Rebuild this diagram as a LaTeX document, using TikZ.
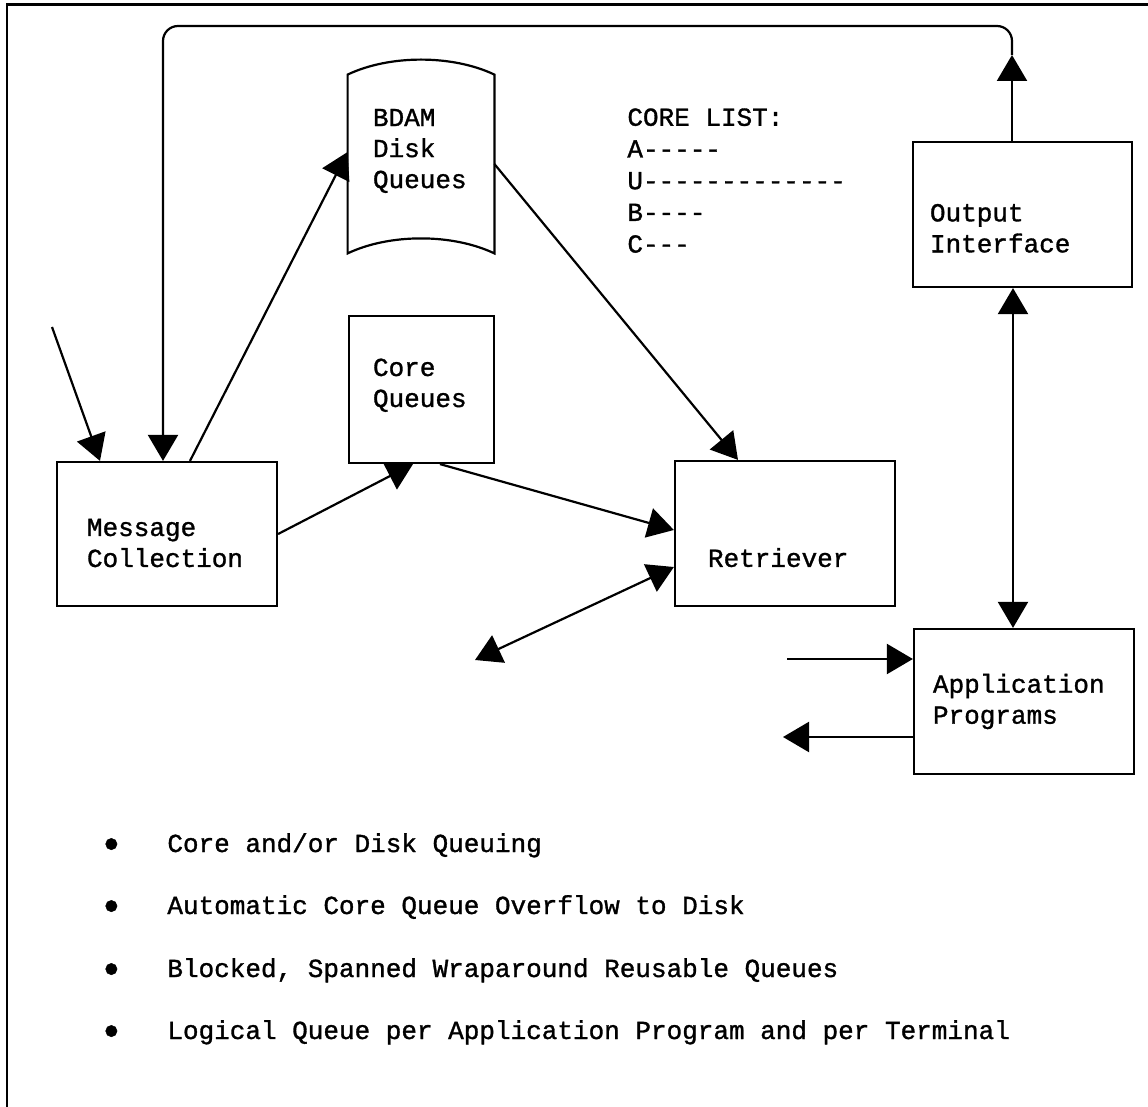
\documentclass[tikz,border=0pt]{standalone}
\usepackage{fontspec}
\newfontfamily\monofont[FakeBold=1.2]{Liberation Mono}
\usetikzlibrary{arrows.meta}
\begin{document}
\begin{tikzpicture}[x=0.5pt,y=-0.5pt,
  every node/.style={font=\monofont\fontsize{13pt}{15.5pt}\selectfont},
  box/.style={draw, line width=1.1pt, align=left, inner ysep=0pt},
  conn/.style={line width=1.1pt, -{Triangle[length=13pt,width=15pt]}},
  conn2/.style={line width=1.1pt, {Triangle[length=13pt,width=15pt]}-{Triangle[length=13pt,width=15pt]}},
  bul/.style={anchor=base west, inner sep=0pt},
  frame/.style={line width=1.1pt}]
\useasboundingbox (0,0) rectangle (1148,1107);
% outer frame (cut off at right and bottom)
\draw[frame] (1148,4.5) -- (7,4.5) -- (7,1107);

% boxes
\node[box, minimum width=110pt, minimum height=72pt, text width=80pt, inner xsep=15pt] (mc) at (167,534) {\rule{0pt}{17.6pt}Message\\Collection};
\node[box, minimum width=72.5pt, minimum height=73.5pt, text width=48.5pt, inner xsep=12pt] (core) at (421.5,389.5) {Core\\Queues\rule[-6.7pt]{0pt}{6.7pt}};
\node[align=left, minimum width=73pt, minimum height=89pt, text width=48pt, inner xsep=12.5pt, inner ysep=0pt] (bdam) at (421,164) {BDAM\\Disk\\Queues\\\mbox{}};
\draw[line width=1.1pt] (bdam.north west) .. controls +(21pt,10pt) and +(-21pt,10pt) .. (bdam.north east)
  -- (bdam.south east) .. controls +(-21pt,10pt) and +(21pt,10pt) .. (bdam.south west) -- cycle;
\node[box, minimum width=109.5pt, minimum height=72.5pt, text width=92.5pt, inner xsep=8.5pt] (oi) at (1022.5,214.5) {\mbox{}\\[7pt]Output\\Interface};
\node[box, minimum width=110pt, minimum height=72.5pt, text width=77pt, inner xsep=16.5pt] (ret) at (785,533.5) {\mbox{}\\[18pt]Retriever};
\node[box, minimum width=110pt, minimum height=72.5pt, text width=91pt, inner xsep=9.5pt] (app) at (1024,701.5) {Application\\Programs};

% core list
\node[anchor=north west, align=left, inner sep=0pt, font=\monofont\fontsize{13pt}{15.85pt}\selectfont] (corelist) at (627,108)
  {CORE LIST:\\A-----\\U-------------\\B----\\C---};

% connector end points
\coordinate (in1) at (52,327);
\coordinate (loopmid) at (1012,55);
\coordinate (ltl) at (163,26);
\coordinate (dbl) at (475,660);
\coordinate (appin) at (787,659);
\coordinate (appout) at (783,737);

% connectors
\draw[conn] (in1) -- ([xshift=-33.5pt]mc.north);
\draw[conn] (loopmid |- oi.north) -- (loopmid);
\draw[conn, rounded corners=7.5pt] (loopmid) |- (ltl) -- (ltl |- mc.north);
\draw[conn] ([xshift=11.5pt]mc.north) -- ([yshift=6pt]bdam.west);
\draw[conn] (mc.east) -- ([xshift=-4.25pt]core.south);
\draw[conn] ([xshift=9.25pt]core.south) -- ([yshift=1.75pt]ret.west);
\draw[conn2] (dbl) -- ([yshift=-16.75pt]ret.west);
\draw[conn] (bdam.east) -- ([xshift=-23.5pt]ret.north);
\draw[conn2] ([xshift=-4.75pt]oi.south) -- ([xshift=-4.75pt]oi.south |- app.north);
\draw[conn] (appin) -- (appin -| app.west);
\draw[conn] (appout -| app.west) -- (appout);

% bullet list
\newcommand{\bulmark}{\makebox[32pt][l]{\hspace*{-2.3pt}\raisebox{-3pt}{\fontsize{21pt}{21pt}\selectfont •}}}
\node[bul] (b1) at (103,852) {\bulmark Core and/or Disk Queuing};
\node[bul] (b2) at (103,914) {\bulmark Automatic Core Queue Overflow to Disk};
\node[bul] (b3) at (103,977) {\bulmark Blocked, Spanned Wraparound Reusable Queues};
\node[bul] (b4) at (103,1039) {\bulmark Logical Queue per Application Program and per Terminal};
\end{tikzpicture}
\end{document}
